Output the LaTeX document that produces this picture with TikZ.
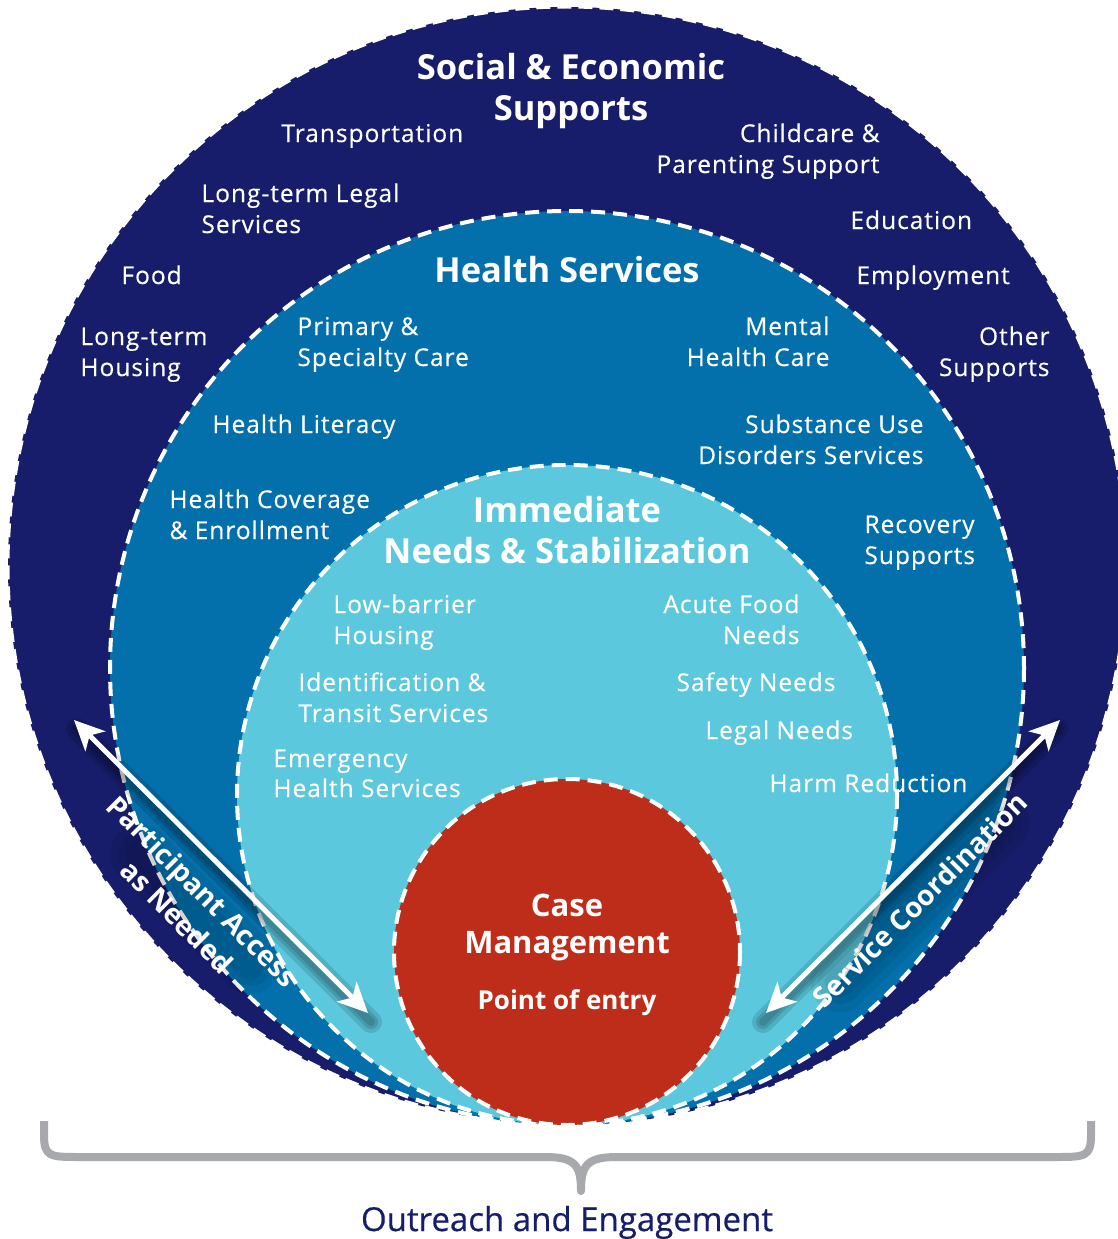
\documentclass[tikz,border=0pt]{standalone}
\usepackage{fontspec}
\setmainfont{Open Sans}
\newfontfamily\itemfont{Open Sans}[LetterSpace=4, FakeBold=0.4]
\newfontfamily\captionfont{Open Sans}[FakeBold=0.5]
\usepackage{tikz}
\usetikzlibrary{arrows.meta}

\definecolor{socialnavy}{RGB}{23,29,106}
\definecolor{healthblue}{RGB}{3,112,172}
\definecolor{needscyan}{RGB}{91,200,222}
\definecolor{casered}{RGB}{190,44,26}
\definecolor{bracegray}{RGB}{168,169,173}

\begin{document}
\begin{tikzpicture}[x=1pt, y=-1pt, line width=1pt,
    ringline/.style={draw=white, line width=4pt, dash pattern=on 14pt off 8pt},
    itemtext/.style={text=white, inner sep=0pt, font=\itemfont\fontsize{24.5}{31}\selectfont},
    ringtitle/.style={text=white, inner sep=0pt, align=center, font=\bfseries\fontsize{34.5}{41}\selectfont},
    flowarrow/.style={white, line width=5pt, {Stealth[length=30pt, width=28pt, inset=8pt]}-{Stealth[length=30pt, width=28pt, inset=8pt]}},
    arrowshade/.style={black, opacity=0.12, line width=#1, line cap=round},
    arrowtext/.style={text=white, inner sep=0pt, align=center, font=\bfseries\fontsize{28}{36}\selectfont}]

    \useasboundingbox (0, 0) rectangle (1118, 1239);

    % draw the four rings, all touching at the bottom
    \filldraw[fill=socialnavy, ringline, line width=3pt, dash pattern=on 14pt off 7pt] (567, 566) circle (559);
    \filldraw[fill=healthblue, ringline] (567, 668) circle (457);
    \filldraw[fill=needscyan, ringline] (567, 795) circle (330);
    \filldraw[fill=casered, ringline] (567, 952) circle (173);

    % draw outer ring texts (base = last line)
    \node[ringtitle, anchor=base] (social) at (571, 120) {Social \& Economic\\Supports};
    \node[itemtext, anchor=base west] (transport) at (281, 142) {Transportation};
    \node[itemtext, anchor=base east, align=right] (childcare) at (880, 173) {Childcare \&\\Parenting Support};
    \node[itemtext, anchor=base west, align=left] (legal) at (201, 233) {Long-term Legal\\Services};
    \node[itemtext, anchor=base west] (education) at (850, 229) {Education};
    \node[itemtext, anchor=base west] (food) at (121, 284) {Food};
    \node[itemtext, anchor=base west] (employment) at (856, 284) {Employment};
    \node[itemtext, anchor=base west, align=left] (housing) at (80, 376) {Long-term\\Housing};
    \node[itemtext, anchor=base east, align=right] (other) at (1050, 376) {Other\\Supports};

    % draw health ring texts
    \node[ringtitle, anchor=base] (health) at (567, 282) {Health Services};
    \node[itemtext, anchor=base west, align=left] (primary) at (297, 366) {Primary \&\\Specialty Care};
    \node[itemtext, anchor=base east, align=right] (mental) at (830, 366) {Mental\\Health Care};
    \node[itemtext, anchor=base west] (literacy) at (212, 433) {Health Literacy};
    \node[itemtext, anchor=base east, align=right] (substance) at (924, 464) {Substance Use\\Disorders Services};
    \node[itemtext, anchor=base west, align=left] (coverage) at (169, 539) {Health Coverage\\\& Enrollment};
    \node[itemtext, anchor=base west, align=left] (recovery) at (864, 564) {Recovery\\Supports};

    % draw immediate needs texts
    \node[ringtitle, anchor=base] (immediate) at (567, 563) {Immediate\\Needs \& Stabilization};
    \node[itemtext, anchor=base west, align=left] (lowbarrier) at (333, 644) {Low-barrier\\Housing};
    \node[itemtext, anchor=base east, align=right] (acutefood) at (800, 644) {Acute Food\\Needs};
    \node[itemtext, anchor=base west, align=left] (identification) at (298, 722) {Identification \&\\Transit Services};
    \node[itemtext, anchor=base east] (safety) at (836, 691) {Safety Needs};
    \node[itemtext, anchor=base west] (legalneeds) at (705, 739) {Legal Needs};
    \node[itemtext, anchor=base west, align=left, font=\itemfont\fontsize{24.5}{30}\selectfont] (emergency) at (273, 797) {Emergency\\Health Services};
    \node[itemtext, anchor=base west] (harm) at (769, 792) {Harm Reduction};

    % draw case management texts
    \node[ringtitle, anchor=base, font=\bfseries\fontsize{31}{37}\selectfont] (casemgmt) at (567, 953) {Case\\Management};
    \node[ringtitle, anchor=base, font=\bfseries\fontsize{26}{30}\selectfont] (entry) at (567, 1009) {Point of entry};

    % draw the two arrows
    \coordinate (access top) at (74, 720);
    \coordinate (access end) at (368, 1013);
    \coordinate (coord top) at (1060, 720);
    \coordinate (coord end) at (766, 1013);
    \foreach \w in {22, 14, 8} {
        \draw[arrowshade=\w pt] ([shift={(3, 9)}]access top) -- ([shift={(3, 9)}]access end);
        \draw[arrowshade=\w pt] ([shift={(-3, 9)}]coord top) -- ([shift={(-3, 9)}]coord end);
    }
    % soft glow behind the arrow labels
    \foreach \w in {60, 44, 30} {
        \draw[arrowshade=\w pt, opacity=0.06] (140, 854) -- (250, 964);
        \draw[arrowshade=\w pt, opacity=0.06] (1000, 822) -- (840, 982);
    }
    \draw[flowarrow] (access top) -- (access end);
    \draw[flowarrow] (coord top) -- (coord end);

    % draw arrow labels
    \node[arrowtext, rotate=-45] (access) at (190, 904) {Participant Access\\as Needed};
    \node[arrowtext, rotate=45] (coordination) at (920, 900) {Service Coordination};

    % draw bracket and caption
    \draw[bracegray, line width=8pt, line join=round]
      (44, 1121) -- (44, 1135) .. controls (44, 1157) and (50, 1157) .. (80, 1157)
       -- (545, 1157) .. controls (575, 1157) and (581, 1165) .. (581, 1191)
       .. controls (581, 1165) and (587, 1157) .. (617, 1157)
       -- (1055, 1157) .. controls (1085, 1157) and (1091, 1157) .. (1091, 1135) -- (1091, 1121);
    \node[anchor=base, text=socialnavy, inner sep=0pt, font=\captionfont\fontsize{33}{38}\selectfont] (outreach) at (567, 1231) {Outreach and Engagement};

\end{tikzpicture}
\end{document}
